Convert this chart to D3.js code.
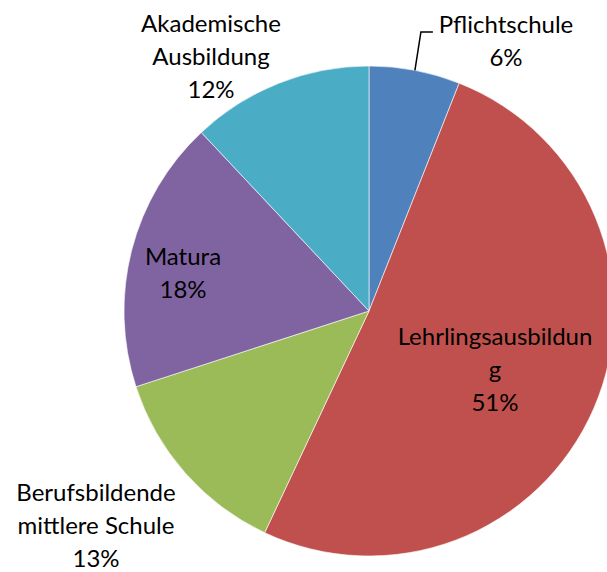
<html>

<head>
	<title>Ausbildung</title>
	<script src="https://d3js.org/d3.v7.min.js"></script>
	<style>
		body {
			margin: 0;
			background: #fff;
		}
		text {
			font-family: Lato, "Open Sans", sans-serif;
			fill: #000;
		}
	</style>
</head>

<body>
	<div id="chart"></div>
	<script>
		// categories and shares (percent), clockwise from 12 o'clock
		let labels = ["Pflichtschule", "Lehrlingsausbildung", "Berufsbildende mittlere Schule", "Matura", "Akademische Ausbildung"];
		let lines = [
			["Pflichtschule"],
			["Lehrlingsausbildun", "g"],
			["Berufsbildende", "mittlere Schule"],
			["Matura"],
			["Akademische", "Ausbildung"]
		];
		let values = [6, 51, 13, 18, 12];
		let colors = ["#4F81BD", "#C0504D", "#9BBB59", "#8064A2", "#4BACC6"];

		let width = 607,
			height = 572;
		let cx = 369,
			cy = 311,
			r = 245;

		// where each label block is centred, relative to the pie centre
		let labelPos = [
			[137, -270],
			[126, 59],
			[-273, 215],
			[-186, -38],
			[-158, -254]
		];

		let svg = d3.select("#chart").append("svg")
			.attr("width", width)
			.attr("height", height);

		let g = svg.append("g").attr("transform", "translate(" + cx + "," + cy + ")");

		let pie = d3.pie().sort(null).value(function (d) {
			return d;
		});
		let arc = d3.arc().innerRadius(0).outerRadius(r);
		let arcs = pie(values);

		g.selectAll("path").data(arcs).enter().append("path")
			.attr("d", arc)
			.attr("fill", function (d, i) {
				return colors[i];
			})
			.attr("stroke", "#fff")
			.attr("stroke-width", 0.6);

		// leader line for the small slice
		let a0 = (arcs[0].startAngle + arcs[0].endAngle) / 2;
		let px = Math.sin(a0) * r,
			py = -Math.cos(a0) * r;
		g.append("path")
			.attr("d", "M" + px + "," + py + "L" + (px + 6) + "," + (-279) + "L" + (px + 18) + "," + (-279))
			.attr("fill", "none")
			.attr("stroke", "#000")
			.attr("stroke-width", 1.5);

		let lh = 33;
		let fs = 24;
		arcs.forEach(function (d, i) {
			let block = lines[i].concat([Math.round(values[i]) + "%"]);
			let x = labelPos[i][0],
				y = labelPos[i][1] - (block.length - 1) * lh / 2;
			let t = g.append("text")
				.attr("text-anchor", "middle")
				.attr("font-size", fs);
			block.forEach(function (s, k) {
				t.append("tspan")
					.attr("x", x)
					.attr("y", y + k * lh)
					.attr("dy", "0.35em")
					.text(s);
			});
		});
	</script>
</body>

</html>
